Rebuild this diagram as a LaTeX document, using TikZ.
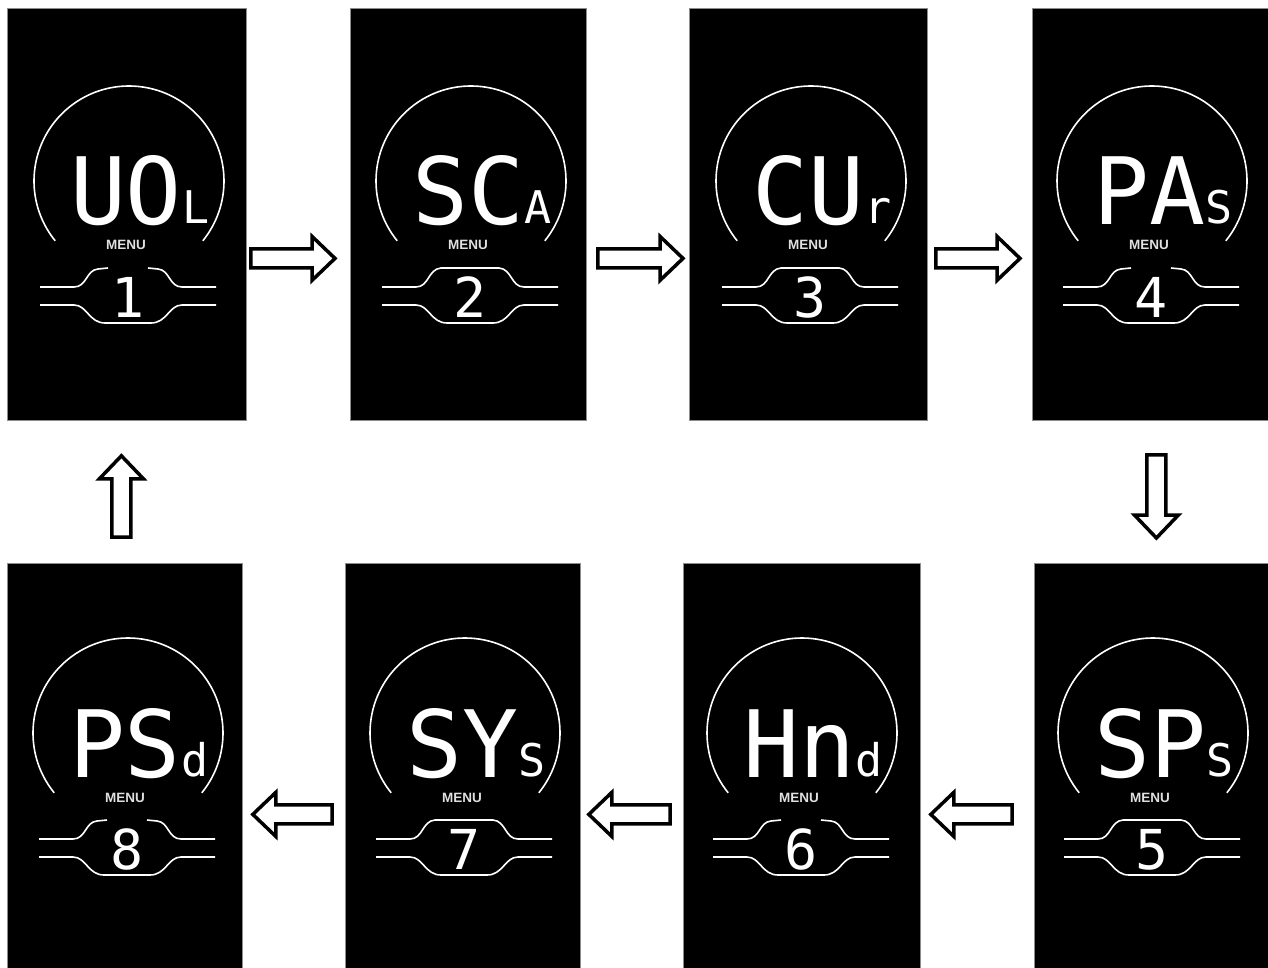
\documentclass[tikz,border=0pt]{standalone}
\usepackage{fontspec}
\newfontfamily\segfont{DejaVu Sans Mono}
\newfontfamily\labelfont{Liberation Sans}
\usetikzlibrary{calc}

% block arrow dimensions
\newcommand\arrShaft{9.5pt}
\newcommand\arrHeadW{22pt}
\newcommand\arrHeadL{23pt}

% one display face: #1 name, #2 centre x, #3 top y, #4 large glyphs,
% #5 small glyph, #6 index digit, #7 gap in the upper band (1 = yes)
\newcommand\lcdface[7]{%
  \begin{scope}[shift={(#2,#3)}]
    \draw[dial] (1,173) ++(141:95) arc[start angle=141, end angle=399, radius=95];
    \node[bigseg] (#1-big) at (-2,217) {#4};
    \node[smallseg] (#1-small) at (68,216) {#5};
    \node[menulabel] (#1-menu) at (-2,242) {MENU};
    \ifnum#7=1
      \draw[band] (-88,279) -- (-54,279) .. controls (-41,279) and (-42,262) .. (-30,261) -- (-20,260);
      \draw[band] (20,260) -- (30,261) .. controls (42,262) and (41,279) .. (54,279) -- (88,279);
    \else
      \draw[band] (-88,279) -- (-54,279) .. controls (-41,279) and (-42,261) .. (-29,260)
        -- (29,260) .. controls (42,261) and (41,279) .. (54,279) -- (88,279);
    \fi
    \draw[band] (-88,297) -- (-54,297) .. controls (-41,297) and (-39,315) .. (-23,315)
      -- (23,315) .. controls (39,315) and (41,297) .. (54,297) -- (88,297);
    \node[idx] (#1-idx) at (0,309) {#6};
  \end{scope}}

\begin{document}
\begin{tikzpicture}[x=1pt, y=-1pt,
  panel/.style={draw=black!45, line width=0.8pt, fill=black, anchor=north west, inner sep=0pt},
  dial/.style={white, line width=1.6pt},
  band/.style={white, line width=1.6pt},
  seg/.style={text=white, inner sep=0pt, anchor=base, text depth=0pt},
  bigseg/.style={seg, font=\segfont\fontsize{93}{93}\selectfont},
  smallseg/.style={seg, font=\segfont\fontsize{45}{45}\selectfont},
  idx/.style={seg, font=\segfont\fontsize{55}{55}\selectfont},
  menulabel/.style={text=white!88!black, inner sep=0pt, anchor=base, text depth=0pt,
    font=\labelfont\bfseries\fontsize{13.5}{13.5}\selectfont},
  blockarrow/.style={draw=black, line width=3.5pt, fill=white, line join=miter,
    to path={
      ($(\tikztostart)!\arrShaft!90:(\tikztotarget)$)
      -- ($(\tikztotarget)!\arrHeadL!(\tikztostart)!\arrShaft!-90:(\tikztostart)$)
      -- ($(\tikztotarget)!\arrHeadL!(\tikztostart)!\arrHeadW!-90:(\tikztostart)$)
      -- (\tikztotarget)
      -- ($(\tikztotarget)!\arrHeadL!(\tikztostart)!\arrHeadW!90:(\tikztostart)$)
      -- ($(\tikztotarget)!\arrHeadL!(\tikztostart)!\arrShaft!90:(\tikztostart)$)
      -- ($(\tikztostart)!\arrShaft!-90:(\tikztotarget)$)
      -- cycle}}
]
\useasboundingbox (0,0) rectangle (1268,968);
\fill[white] (0,0) rectangle (1268,968);

% top row
\node[panel, minimum width=239pt, minimum height=412pt] (p1) at (7,8) {};
\node[panel, minimum width=236pt, minimum height=412pt] (p2) at (350,8) {};
\node[panel, minimum width=238pt, minimum height=412pt] (p3) at (689,8) {};
\node[panel, minimum width=236pt, minimum height=412pt] (p4) at (1032,8) {};
% bottom row
\node[panel, minimum width=234pt, minimum height=408pt] (p5) at (1034,563) {};
\node[panel, minimum width=237pt, minimum height=408pt] (p6) at (683,563) {};
\node[panel, minimum width=235pt, minimum height=408pt] (p7) at (345,563) {};
\node[panel, minimum width=235pt, minimum height=408pt] (p8) at (7,563) {};

\lcdface{f1}{128}{8}{UO}{L}{1}{1}
\lcdface{f2}{470}{8}{SC}{A}{2}{0}
\lcdface{f3}{810}{8}{CU}{r}{3}{0}
\lcdface{f4}{1151}{8}{PA}{S}{4}{1}
\lcdface{f5}{1152}{560}{SP}{S}{5}{0}
\lcdface{f6}{801}{560}{Hn}{d}{6}{1}
\lcdface{f7}{464}{560}{SY}{S}{7}{0}
\lcdface{f8}{127}{560}{PS}{d}{8}{1}

% menu order
\draw[blockarrow] ($(p1.east)+(4,44)$) to ($(p2.west)+(-15,44)$);
\draw[blockarrow] ($(p2.east)+(11,44)$) to ($(p3.west)+(-6,44)$);
\draw[blockarrow] ($(p3.east)+(8,44)$) to ($(p4.west)+(-12,44)$);
\draw[blockarrow] ($(p4.south)+(6,34)$) to ($(p5.north)+(5,-25)$);
\draw[blockarrow] ($(p5.west)+(-22,47)$) to ($(p6.east)+(10,47)$);
\draw[blockarrow] ($(p6.west)+(-13,47)$) to ($(p7.east)+(8,47)$);
\draw[blockarrow] ($(p7.west)+(-13,47)$) to ($(p8.east)+(10,47)$);
\draw[blockarrow] ($(p8.north)+(-3.5,-26)$) to ($(p1.south)+(-5.5,35)$);
\end{tikzpicture}
\end{document}
